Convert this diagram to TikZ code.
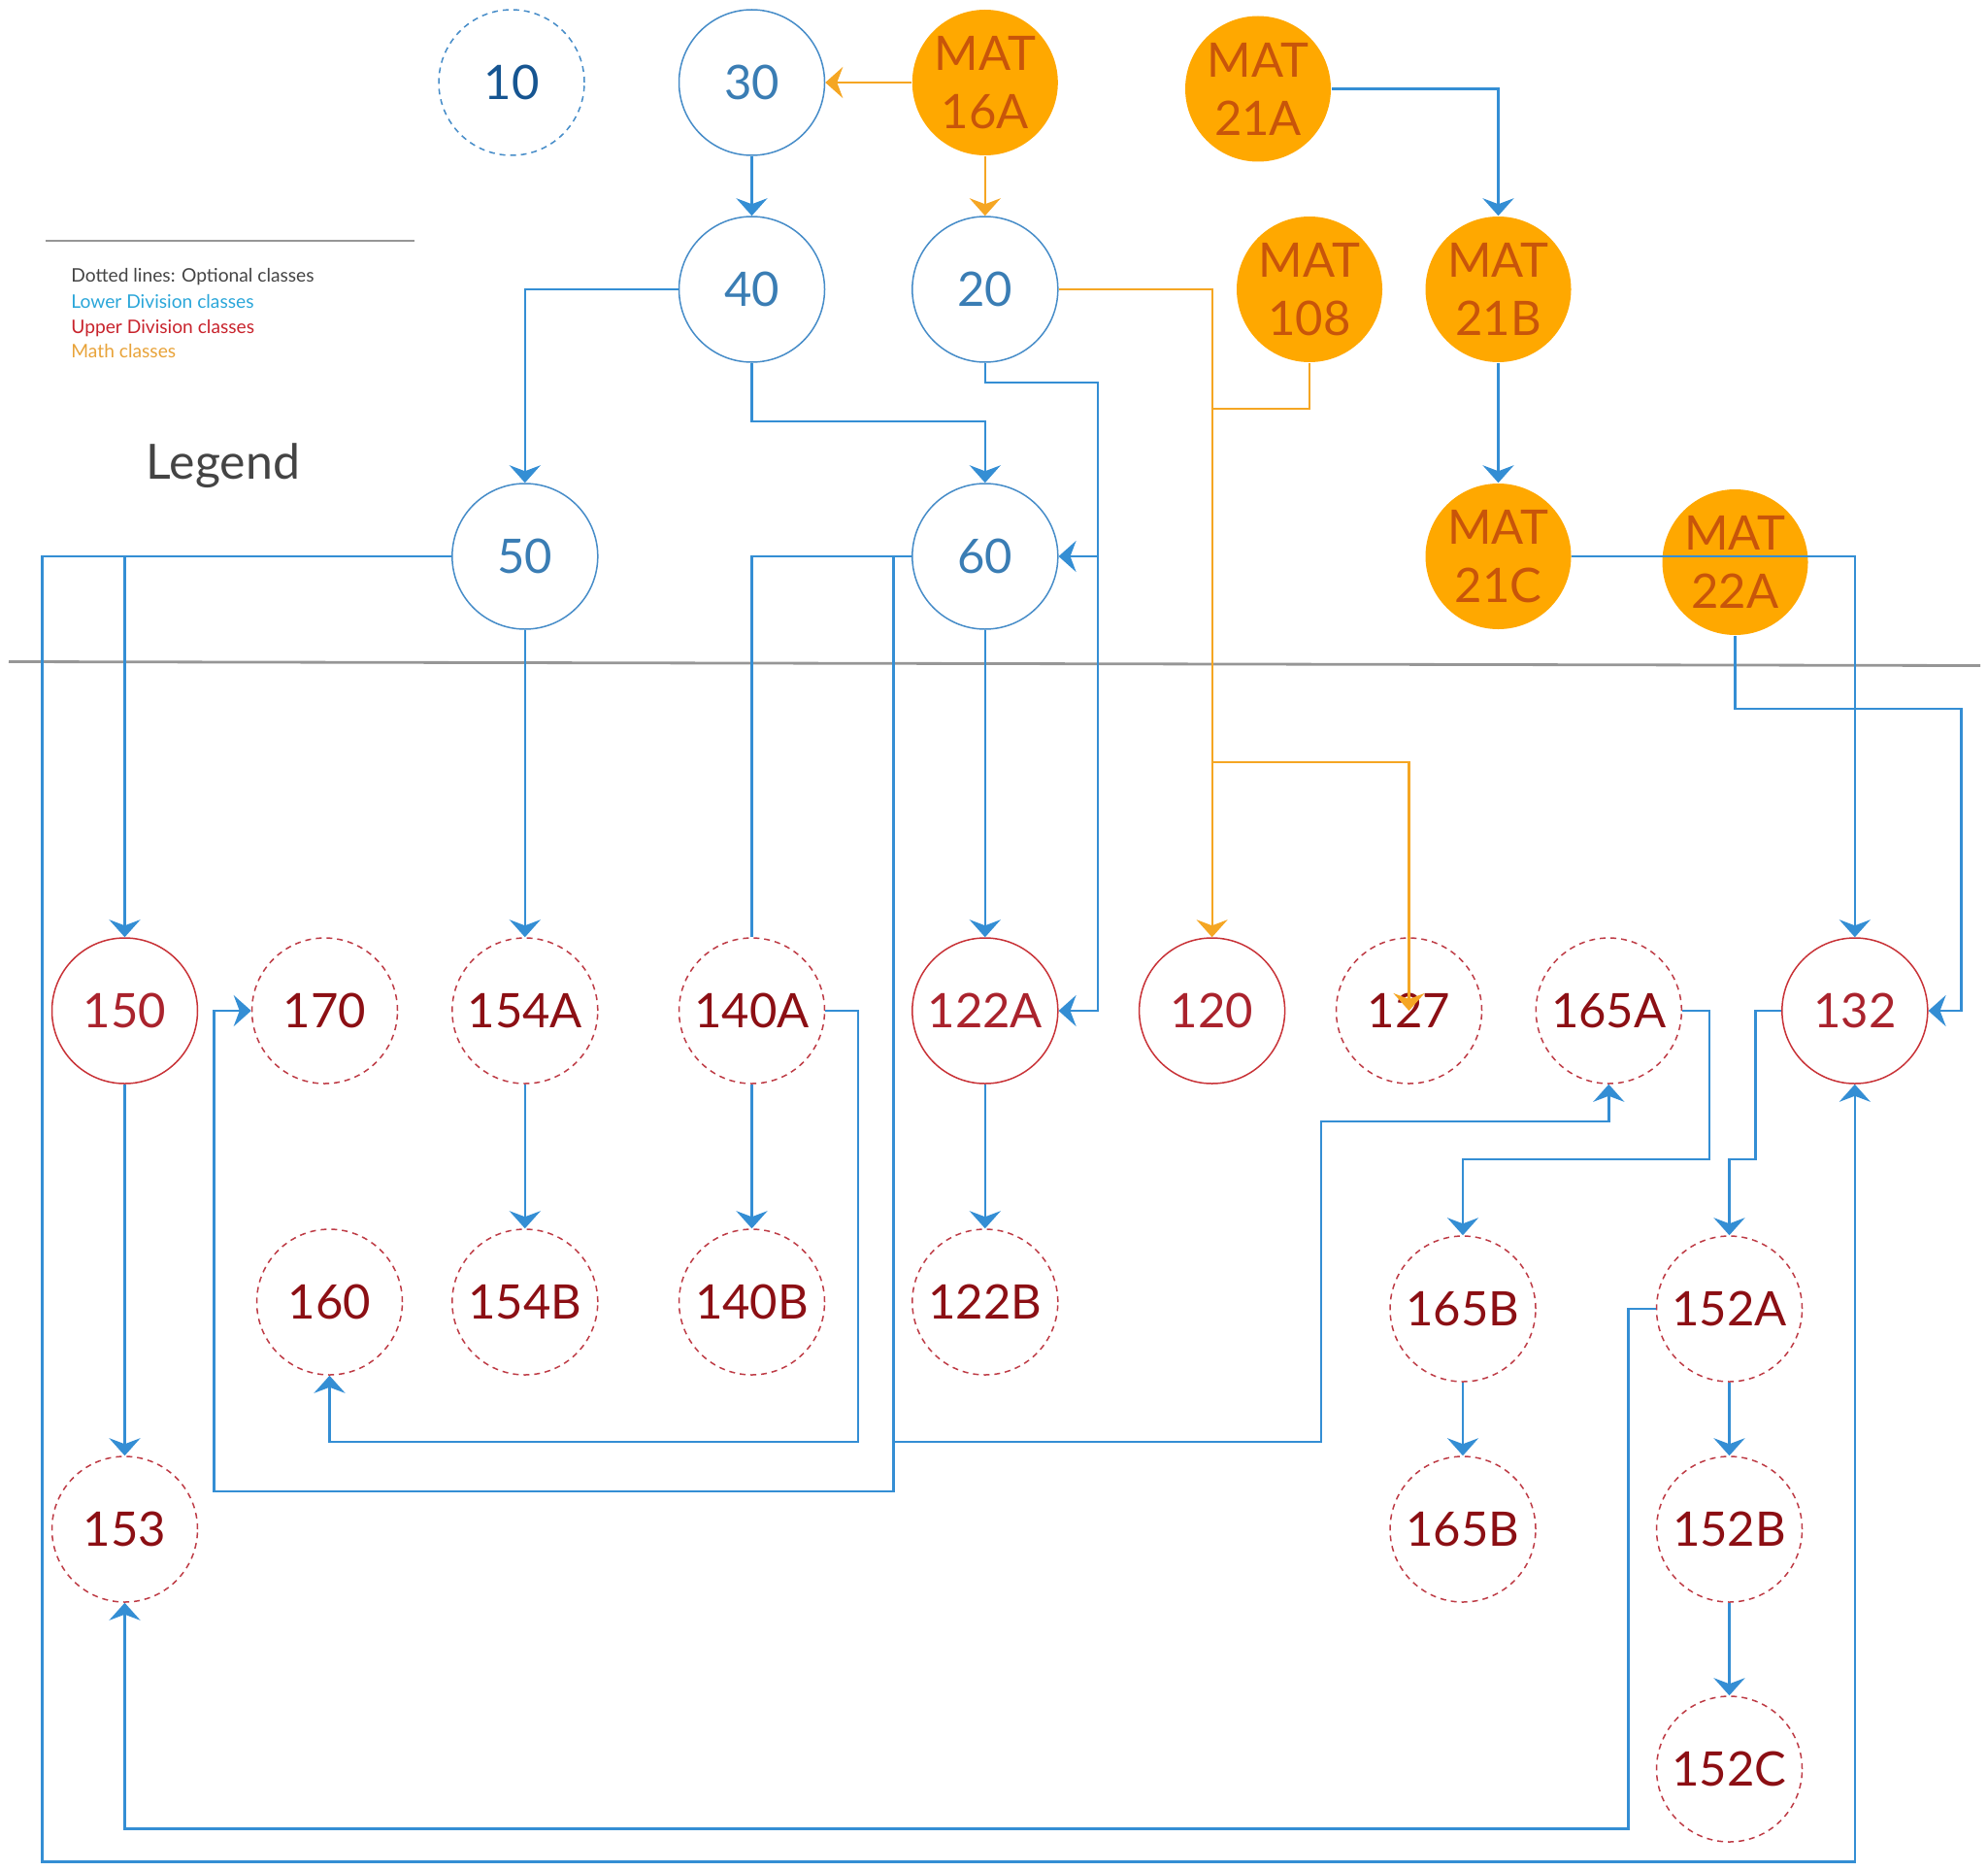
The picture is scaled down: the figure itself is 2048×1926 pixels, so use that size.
\documentclass[tikz,border=0pt]{standalone}
\usepackage{fontspec}
\setmainfont{Lato}
\usetikzlibrary{arrows.meta,calc}
\definecolor{cblue}{RGB}{52,142,212}
\definecolor{clowc}{RGB}{70,140,200}
\definecolor{clowt}{RGB}{58,125,180}
\definecolor{cten}{RGB}{22,85,145}
\definecolor{cupc}{RGB}{200,50,55}
\definecolor{cupd}{RGB}{190,60,70}
\definecolor{cupt}{RGB}{170,35,45}
\definecolor{cupdt}{RGB}{140,15,20}
\definecolor{cmatf}{RGB}{255,168,0}
\definecolor{cmatt}{RGB}{200,85,10}
\definecolor{corange}{RGB}{245,166,35}
\definecolor{csep}{RGB}{150,150,150}
\definecolor{clegt}{RGB}{68,68,68}
\definecolor{cleglow}{RGB}{42,166,217}
\definecolor{clegup}{RGB}{200,35,44}
\definecolor{clegmath}{RGB}{232,163,58}
\tikzset{
  course/.style={circle, minimum size=75pt, inner sep=0pt, line width=0.75pt,
    font=\fontsize{24.5}{30}\selectfont, align=center},
  lowbox/.style={course, draw=clowc, text=clowt},
  lowdash/.style={course, draw=clowc, text=cten, dash pattern=on 3pt off 2.5pt},
  upbox/.style={course, draw=cupc, text=cupt},
  updash/.style={course, draw=cupd, text=cupdt, dash pattern=on 3pt off 2.5pt},
  matbox/.style={course, fill=cmatf, draw=none, text=cmatt},
  tipstyle/.style={-{Stealth[length=9pt,width=16pt,inset=3pt]}},
  barrow/.style={draw=cblue, line width=1.3pt, tipstyle},
  bplain/.style={draw=cblue, line width=1.3pt},
  oarrow/.style={draw=corange, line width=1.1pt, tipstyle},
  oplain/.style={draw=corange, line width=1.1pt},
  legtext/.style={anchor=base west, font=\fontsize{9.6}{11}\selectfont, inner sep=0pt}
}
\begin{document}
\begin{tikzpicture}[x=0.5pt,y=-0.5pt]
\useasboundingbox (0,0) rectangle (2048,1926);
% legend
\draw[csep, line width=1.4pt] (47,248) -- (427,248);
\node[legtext, text=clegt] (lg1) at (73,290) {Dotted lines: Optional classes};
\node[legtext, text=cleglow] (lg2) at (73,317) {Lower Division classes};
\node[legtext, text=clegup] (lg3) at (73,343) {Upper Division classes};
\node[legtext, text=clegmath] (lg4) at (73,368) {Math classes};
\node[anchor=base, font=\fontsize{25}{30}\selectfont, text=clegt, inner sep=0pt] (lgt) at (230,493) {Legend};
% separator
\draw[csep, line width=1.4pt] (9,681.5) -- (2040,685.5);
% lower division
\node[lowdash] (n10) at (527,85) {10};
\node[lowbox] (n30) at (774.5,85) {30};
\node[lowbox] (n40) at (774.5,298) {40};
\node[lowbox] (n20) at (1014.8,298) {20};
\node[lowbox] (n50) at (540.8,573) {50};
\node[lowbox] (n60) at (1014.8,573) {60};
% math
\node[matbox] (m16a) at (1014.8,85) {MAT\\16A};
\node[matbox] (m21a) at (1296,91.5) {MAT\\21A};
\node[matbox] (m108) at (1349,298) {MAT\\108};
\node[matbox] (m21b) at (1543.5,298) {MAT\\21B};
\node[matbox] (m21c) at (1543.5,573) {MAT\\21C};
\node[matbox] (m22a) at (1787.5,579) {MAT\\22A};
% upper division
\node[upbox] (n150) at (128.5,1041) {150};
\node[updash] (n170) at (334.5,1041) {170};
\node[updash] (n154a) at (540.8,1041) {154A};
\node[updash] (n140a) at (774.5,1041) {140A};
\node[upbox] (n122a) at (1014.8,1041) {122A};
\node[upbox] (n120) at (1248.6,1041) {120};
\node[updash] (n127) at (1451.5,1041) {127};
\node[updash] (n165a) at (1657.3,1041) {165A};
\node[upbox] (n132) at (1910.8,1041) {132};
\node[updash] (n160) at (339.5,1341) {160};
\node[updash] (n154b) at (540.8,1341) {154B};
\node[updash] (n140b) at (774.5,1341) {140B};
\node[updash] (n122b) at (1014.8,1341) {122B};
\node[updash] (n165b) at (1507,1348) {165B};
\node[updash] (n152a) at (1781.5,1348) {152A};
\node[updash] (n153) at (128.5,1575) {153};
\node[updash] (n165c) at (1507,1575) {165B};
\node[updash] (n152b) at (1781.5,1575) {152B};
\node[updash] (n152c) at (1781.5,1822) {152C};
% helper coordinates
\coordinate (c4060) at (774.5,434);
\coordinate (v20) at (1131,394);
\coordinate (o108) at (1248.6,421);
\coordinate (o127) at (1248.6,785);
\coordinate (c22) at (2020.6,730);
\coordinate (c50b) at (43.5,1917.7);
\coordinate (c60a) at (920.5,573);
\coordinate (c60b) at (920.5,1536);
\coordinate (c170) at (220.3,1536);
\coordinate (c165s) at (920.5,1485);
\coordinate (c165t) at (1361,1155);
\coordinate (c140) at (884,1485);
\coordinate (c165) at (1761,1194);
\coordinate (c132) at (1808.6,1194);
\coordinate (c152) at (1677.4,1883.5);
% orange connectors
\draw[oarrow] (m16a.west) -- (n30.east);
\draw[oarrow] (m16a.south) -- (n20.north);
\draw[oarrow] (n20.east) -| (n120.north);
\draw[oplain] (m108.south) |- (o108);
\draw[oarrow] (o127) -| (n127.center);
% blue connectors
\draw[barrow] (n30.south) -- (n40.north);
\draw[barrow] (m21a.east) -| (m21b.north);
\draw[barrow] (m21b.south) -- (m21c.north);
\draw[barrow] (n40.west) -| (n50.north);
\draw[barrow] (n40.south) -- (c4060) -| (n60.north);
\draw[barrow] (n20.south) |- (v20) |- (n122a.east);
\draw[barrow] (v20 |- n60) -- (n60.east);
\draw[barrow] (m21c.east) -| (n132.north);
\draw[barrow] (m22a.south) |- (c22) |- (n132.east);
\draw[barrow] (n50.west) -| (c50b) -| (n132.south);
\draw[barrow] (n150 |- n50) -- (n150.north);
\draw[barrow] (n50.south) -- (n154a.north);
\draw[barrow] (n60.south) -- (n122a.north);
\draw[bplain] (n60.west) -| (n140a.north);
\draw[barrow] (c60a) -- (c60b) -- (c170) |- (n170.west);
\draw[barrow] (c165s) -| (c165t) -| (n165a.south);
\draw[barrow] (n140a.east) -| (c140) -| (n160.south);
\draw[barrow] (n154a.south) -- (n154b.north);
\draw[barrow] (n140a.south) -- (n140b.north);
\draw[barrow] (n122a.south) -- (n122b.north);
\draw[barrow] (n150.south) -- (n153.north);
\draw[barrow] (n165a.east) -| (c165) -| (n165b.north);
\draw[barrow] (n132.west) -| (c132) -| (n152a.north);
\draw[barrow] (n152a.west) -| (c152) -| (n153.south);
\draw[barrow] (n165b.south) -- (n165c.north);
\draw[barrow] (n152a.south) -- (n152b.north);
\draw[barrow] (n152b.south) -- (n152c.north);
\end{tikzpicture}
\end{document}
